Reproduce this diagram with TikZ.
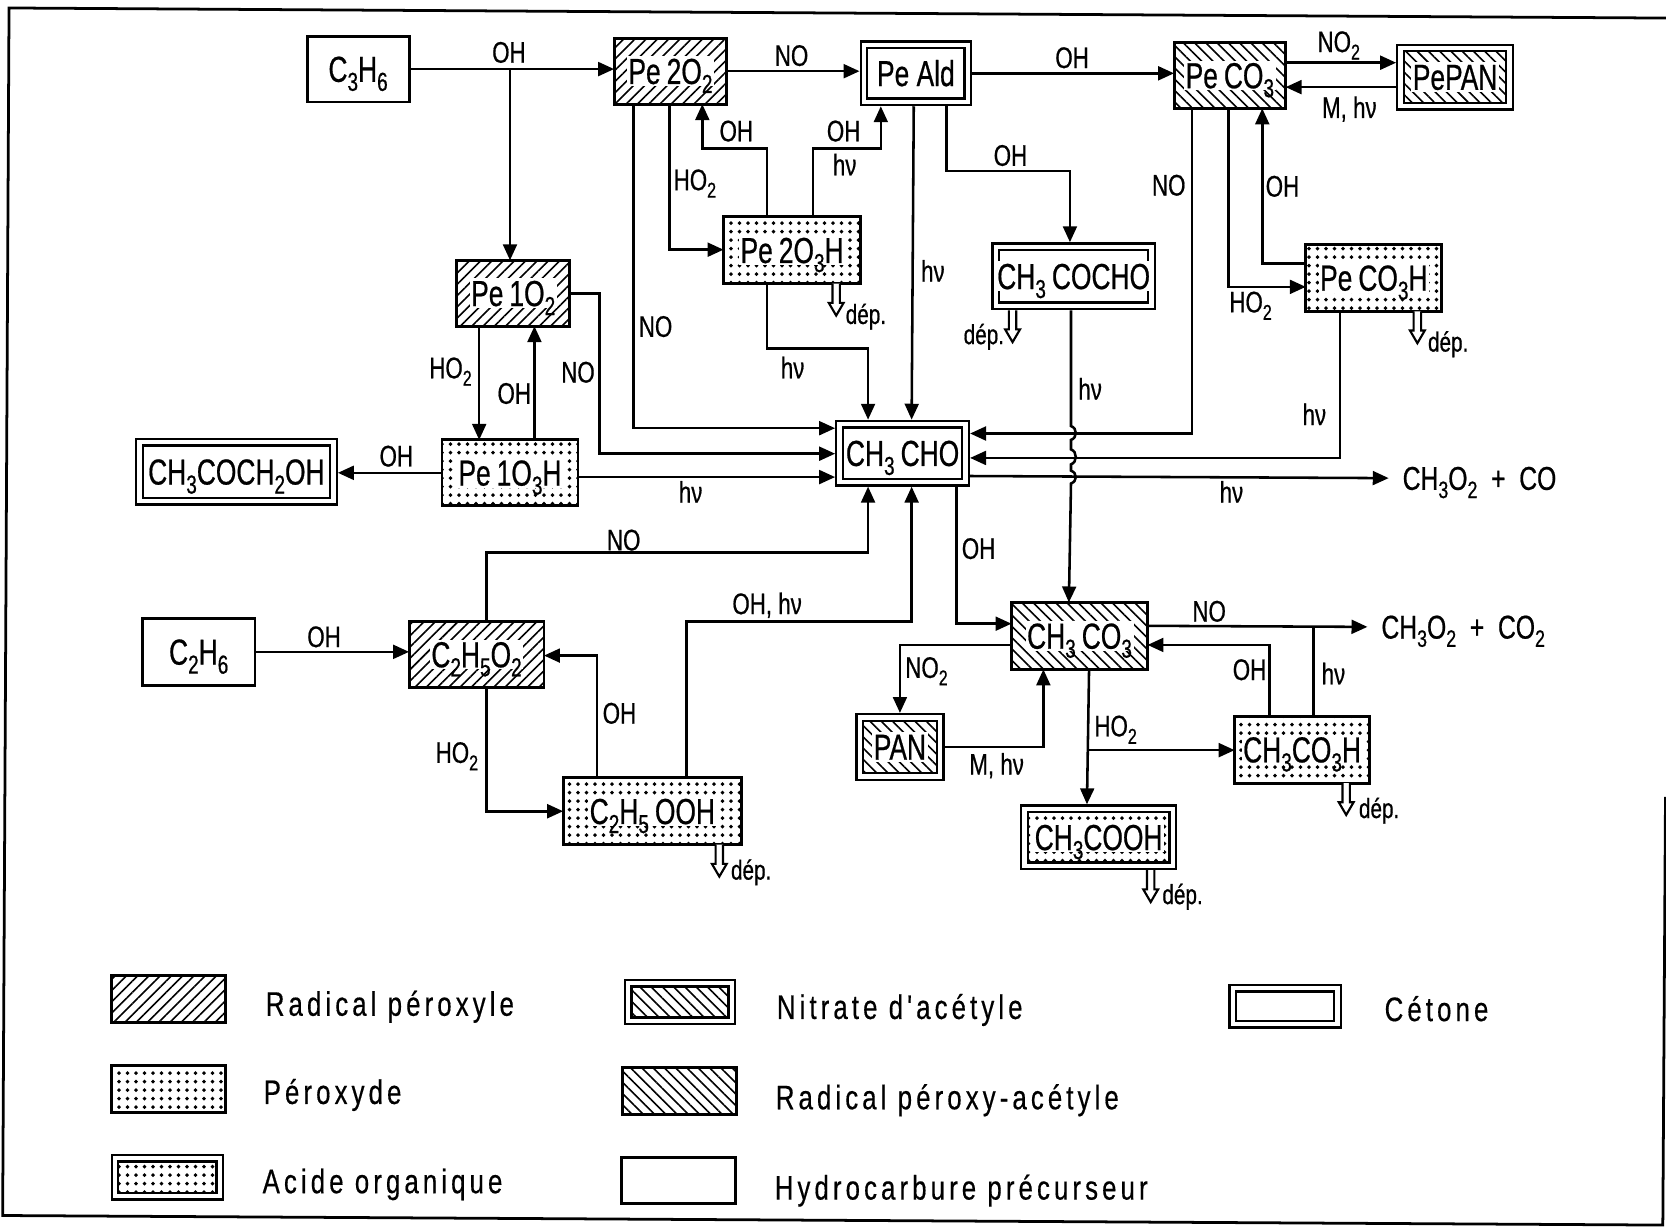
\documentclass[tikz,border=0pt]{standalone}
\usepackage{fontspec}
\setmainfont{Liberation Sans}
\newfontfamily\boxf[FakeStretch=0.73,FakeBold=0.6]{Liberation Sans}
\newfontfamily\lblf[FakeStretch=0.75,FakeBold=0.6]{Liberation Sans}
\newfontfamily\legf[FakeStretch=0.76,LetterSpace=12,FakeBold=0.4]{Liberation Sans}
\usetikzlibrary{arrows.meta,patterns.meta,calc}
\newcommand\sbs[1]{\raisebox{-0.25em}{\scalebox{.72}{#1}}}
\tikzset{
  x=1pt,y=-1pt,
  plainbox/.style={draw=black,line width=2.8pt,fill=white,rectangle},
  dblbox/.style={draw=black,line width=2.2pt,double=white,double distance=4pt,rectangle},
  hatchne/.style={pattern={Lines[angle=45,distance=7.5pt,line width=1.5pt]}},
  hatchnw/.style={pattern={Lines[angle=-45,distance=7.5pt,line width=1.5pt]}},
  dotted box/.style={pattern={Dots[radius=1.8pt,distance=8pt]}},
  boxtext/.style={fill=white,inner xsep=1.5pt,inner ysep=0pt,text height=26pt,text depth=2pt,font=\boxf\fontsize{34}{34}\selectfont},
  arr/.style={draw=black,line width=2.4pt,-{Triangle[length=15pt,width=13pt]}},
  wire/.style={draw=black,line width=2.4pt},
  lbl/.style={inner sep=0pt,text height=22pt,text depth=2pt,font=\lblf\fontsize{28}{28}\selectfont},
  deplbl/.style={inner sep=0pt,font=\lblf\fontsize{26}{26}\selectfont},
  prod/.style={inner sep=0pt,text height=24pt,text depth=2pt,font=\lblf\fontsize{31}{31}\selectfont},
  legtext/.style={inner sep=0pt,anchor=west,text height=25pt,text depth=3pt,font=\legf\fontsize{32}{32}\selectfont},
  deparrow/.style={draw=black,line width=2pt,fill=white,line join=miter},
  framing/.style={draw=black,line width=2.6pt,line join=miter},
}
\newcommand\bx[8][0]{%
  \node[#7,outer sep={#1*0.5pt},minimum width={(#5-#3-#1)*1pt},minimum height={(#6-#4-#1)*1pt},inner sep=0pt]
    (#2) at ({(#3+#5)/2},{(#4+#6)/2}) {};
  \node[boxtext] (#2t) at (#2) {#8};}
\newcommand\lgd[7][0]{%
  \node[#7,outer sep={#1*0.5pt},minimum width={(#5-#3-#1)*1pt},minimum height={(#6-#4-#1)*1pt},inner sep=0pt]
    (#2) at ({(#3+#5)/2},{(#4+#6)/2}) {};}
\newcommand\lb[4]{\node[lbl] (#1) at (#2,#3) {#4};}
\newcommand\dep[5]{%
  \path ([xshift=#2pt]#1.south west) coordinate (#1d);
  \draw[deparrow] (#1d) ++(-3.5,0) -- ++(0,18) -- ++(-3.5,0) -- ++(7,12) -- ++(7,-12) -- ++(-3.5,0) -- ++(0,-18);
  \node[deplbl] (#1dl) at (#3,#4) {#5};}
\begin{document}
\begin{tikzpicture}
\useasboundingbox (0,0) rectangle (1568,1154);
\fill[white] (0,0) rectangle (1568,1154);
% frame: the scan is slightly skewed, so the page border slopes
\draw[framing] (1568,17) -- (8.5,7.5) -- (2.5,1144) -- (1565,1153) -- (1567.5,750);
% boxes
\bx{c3}{289}{34}{385}{96}{plainbox}{C\sbs{3}H\sbs{6}}
\bx{pe2}{578}{36}{684}{98}{plainbox,hatchne}{Pe\,2O\sbs{2}}
\bx[8.4]{ald}{809}{38}{915}{100}{dblbox}{Pe Ald}
\bx{pco}{1105}{40}{1210}{102}{plainbox,hatchnw}{Pe\,CO\sbs{3}}
\bx[8.4]{ppan}{1314}{41}{1425}{104}{dblbox,hatchnw}{PePAN}
\bx{pooh}{681}{204}{810}{267}{plainbox,dotted box}{Pe\,2O\sbs{3}H}
\bx[8.4]{coc}{933}{228}{1088}{292}{dblbox}{CH\sbs{3}\,COCHO}
\bx{pch}{1229}{230}{1357}{293}{plainbox,dotted box}{Pe\,CO\sbs{3}H}
\bx{po}{430}{245}{536}{307}{plainbox,hatchne}{Pe\,1O\sbs{2}}
\bx{pooi}{416}{414}{544}{476}{plainbox,dotted box}{Pe\,1O\sbs{3}H}
\bx[8.4]{hyd}{127}{412}{318}{476}{dblbox}{CH\sbs{3}COCH\sbs{2}OH}
\bx[8.4]{cho}{786}{395}{913}{458}{dblbox}{CH\sbs{3}\,CHO}
\bx{ctwo}{134}{582}{240}{645}{plainbox}{C\sbs{2}H\sbs{6}}
\bx{eto}{385}{585}{512}{647}{plainbox,hatchne}{C\sbs{2}H\sbs{5}O\sbs{2}}
\bx{ac}{952}{567}{1080}{630}{plainbox,hatchnw}{CH\sbs{3}\,CO\sbs{3}}
\bx[8.4]{pan}{805}{671}{889}{735}{dblbox,hatchnw}{PAN}
\bx{ach}{1162}{674}{1289}{737}{plainbox,dotted box}{CH\sbs{3}CO\sbs{3}H}
\bx{eooh}{530}{732}{698}{795}{plainbox,dotted box}{C\sbs{2}H\sbs{5}\,OOH}
\bx[8.4]{acoh}{960}{757}{1108}{819}{dblbox,dotted box}{CH\sbs{3}COOH}
% products
\node[prod,anchor=west] (pa) at (1320,450) {CH\sbs{3}O\sbs{2} \ + \ CO};
\node[prod,anchor=west] (pb) at (1300,590) {CH\sbs{3}O\sbs{2} \ + \ CO\sbs{2}};
\coordinate (paend) at (1307,450);
\coordinate (pbend) at (1287,590);
% connectors
\coordinate (poin) at ([xshift=50pt]po.north west);
\draw[arr] (c3.east) -- (c3.east -| pe2.west);
\draw[arr] (c3.east -| poin) -- (poin);
\draw[arr] (pe2.east) -- (pe2.east -| ald.west);
\draw[arr] (ald.east) -- (ald.east -| pco.west);
\draw[arr] ([yshift=-19pt]pco.north east) -- ([yshift=-18pt]ppan.north west);
\draw[arr] ([yshift=-41pt]ppan.north west) -- ([yshift=-42pt]pco.north east);
\draw[arr] ([xshift=18pt]pe2.south west) |- ([yshift=-8pt]cho.north west);
\draw[arr] ([xshift=52pt]pe2.south west) |- ([yshift=-31pt]pooh.north west);
\draw[arr] ([xshift=41pt]pooh.north west) -- ++(0,-64) -| ([xshift=83pt]pe2.south west);
\draw[arr] ([xshift=84pt]pooh.north west) -- ++(0,-64) -| ([xshift=20pt]ald.south west);
\draw[arr] ([xshift=41pt]pooh.south west) -- ++(0,61) -| ([xshift=31pt]cho.north west);
\draw[arr] ([xshift=51pt]ald.south west) -- ([xshift=72pt]cho.north west);
\draw[arr] ([xshift=82pt]ald.south west) -- ++(0,61) -| ([xshift=74pt]coc.north west);
\draw[arr] ([xshift=17pt]pco.south west) |- ([yshift=-13pt]cho.north east);
\draw[arr] ([xshift=51pt]pco.south west) |- ([yshift=-40pt]pch.north west);
\draw[arr] ([yshift=-18pt]pch.north west) -| ([xshift=83pt]pco.south west);
\draw[arr] ([xshift=32pt]pch.south west) |- ([yshift=-36pt]cho.north east);
\draw[arr] ([yshift=-53pt]cho.north east) -- (paend);
\draw[arr] ([yshift=-31pt]po.north east) -- ++(28,0) |- ([yshift=-32pt]cho.north west);
\draw[arr] ([xshift=21pt]po.south west) -- ([xshift=35pt]pooi.north west);
\draw[arr] ([xshift=87pt]pooi.north west) -- ([xshift=73pt]po.south west);
\draw[arr] (pooi.west) -- (pooi.west -| hyd.east);
\draw[arr] ([yshift=-35pt]pooi.north east) -- ([yshift=-54pt]cho.north west);
\draw[arr] ([xshift=73pt]eto.north west) -- ++(0,-65) -| ([xshift=31pt]cho.south west);
\draw[arr] ([xshift=116pt]eooh.north west) -- ++(0,-147) -| ([xshift=72pt]cho.south west);
\draw[arr] (ctwo.east) -- (ctwo.east -| eto.west);
\draw[arr] ([xshift=73pt]eto.south west) |- (eooh.west);
\draw[arr] ([xshift=32pt]eooh.north west) |- ([yshift=-32pt]eto.north east);
\draw[arr] ([xshift=114pt]cho.south west) |- ([yshift=-20pt]ac.north west);
\draw[arr] ([yshift=-22pt]ac.north east) -- (pbend);
\coordinate (acj) at ([yshift=-23pt,xshift=156pt]ac.north east);
\draw[wire] ([xshift=74pt]ach.north west) -- (acj);
\draw[arr] ([xshift=33pt]ach.north west) |- ([yshift=-40pt]ac.north east);
\draw[arr] ([yshift=-40pt]ac.north west) -| (pan.north);
\draw[arr] ([yshift=-32pt]pan.north east) -| ([xshift=30pt]ac.south west);
\draw[arr] ([xshift=73pt]ac.south west) -- ([xshift=63pt]acoh.north west);
\coordinate (acb) at ([xshift=73pt,yshift=-76pt]ac.south west);
\draw[arr] (acb) -- (acb -| ach.west);
% crossing line with bumps
\draw[arr] ([xshift=75pt]coc.south west)
  -- (1008,401) .. controls (1014,403) and (1014,412) .. (1008,414)
  -- (1008,423) .. controls (1014,425) and (1014,435) .. (1008,437)
  -- (1008,443) .. controls (1014,445) and (1014,453) .. (1008,455)
  -- ([xshift=54pt]ac.north west);
% labels
\lb{a1}{479}{49}{OH}
\lb{a2}{745}{52}{NO}
\lb{a3}{1009}{54}{OH}
\lb{a4}{1260}{39}{NO\sbs{2}}
\lb{a5}{1270}{101}{M, hν}
\lb{a6}{693}{123}{OH}
\lb{a7}{794}{123}{OH}
\lb{a8}{795}{155}{hν}
\lb{a9}{654}{169}{HO\sbs{2}}
\lb{a10}{951}{146}{OH}
\lb{a11}{1100}{174}{NO}
\lb{a12}{1207}{175}{OH}
\lb{a13}{878}{255}{hν}
\lb{a14}{1177}{284}{HO\sbs{2}}
\lb{a15}{617}{307}{NO}
\lb{a16}{746}{346}{hν}
\lb{a17}{1026}{366}{hν}
\lb{a18}{1237}{390}{hν}
\lb{a19}{544}{350}{NO}
\lb{a20}{424}{346}{HO\sbs{2}}
\lb{a21}{484}{370}{OH}
\lb{a22}{373}{429}{OH}
\lb{a23}{650}{463}{hν}
\lb{a24}{1159}{463}{hν}
\lb{a25}{587}{508}{NO}
\lb{a26}{921}{516}{OH}
\lb{a27}{722}{568}{OH, hν}
\lb{a28}{1138}{575}{NO}
\lb{a29}{305}{599}{OH}
\lb{a30}{872}{628}{NO\sbs{2}}
\lb{a31}{1176}{630}{OH}
\lb{a32}{1255}{634}{hν}
\lb{a33}{583}{671}{OH}
\lb{a34}{1050}{683}{HO\sbs{2}}
\lb{a35}{430}{708}{HO\sbs{2}}
\lb{a36}{938}{719}{M, hν}
% deposition arrows
\dep{pooh}{106}{815}{298}{dép.}
\dep{coc}{20}{926}{317}{dép.}
\dep{pch}{105}{1363}{324}{dép.}
\dep{eooh}{147}{707}{821}{dép.}
\dep{ach}{105}{1298}{763}{dép.}
\dep{acoh}{123}{1113}{844}{dép.}
% legend
\lgd{k1}{105}{918}{212}{962}{plainbox,hatchne}
\lgd{k2}{105}{1003}{212}{1047}{plainbox,dotted box}
\lgd[8.4]{k3}{104}{1086}{211}{1130}{dblbox,dotted box}
\lgd[8.4]{k4}{587}{921}{693}{965}{dblbox,hatchnw}
\lgd{k5}{586}{1005}{693}{1049}{plainbox,hatchnw}
\lgd{k6}{585}{1089}{692}{1133}{plainbox}
\lgd[8.4]{k7}{1156}{926}{1263}{968}{dblbox}
\node[legtext] (t1) at (250,945) {Radical péroxyle};
\node[legtext] (t2) at (248,1028) {Péroxyde};
\node[legtext] (t3) at (247,1112) {Acide organique};
\node[legtext] (t4) at (731,948) {Nitrate d'acétyle};
\node[legtext] (t5) at (730,1033) {Radical péroxy-acétyle};
\node[legtext] (t6) at (729,1118) {Hydrocarbure précurseur};
\node[legtext] (t7) at (1303,950) {Cétone};
\end{tikzpicture}
\end{document}
